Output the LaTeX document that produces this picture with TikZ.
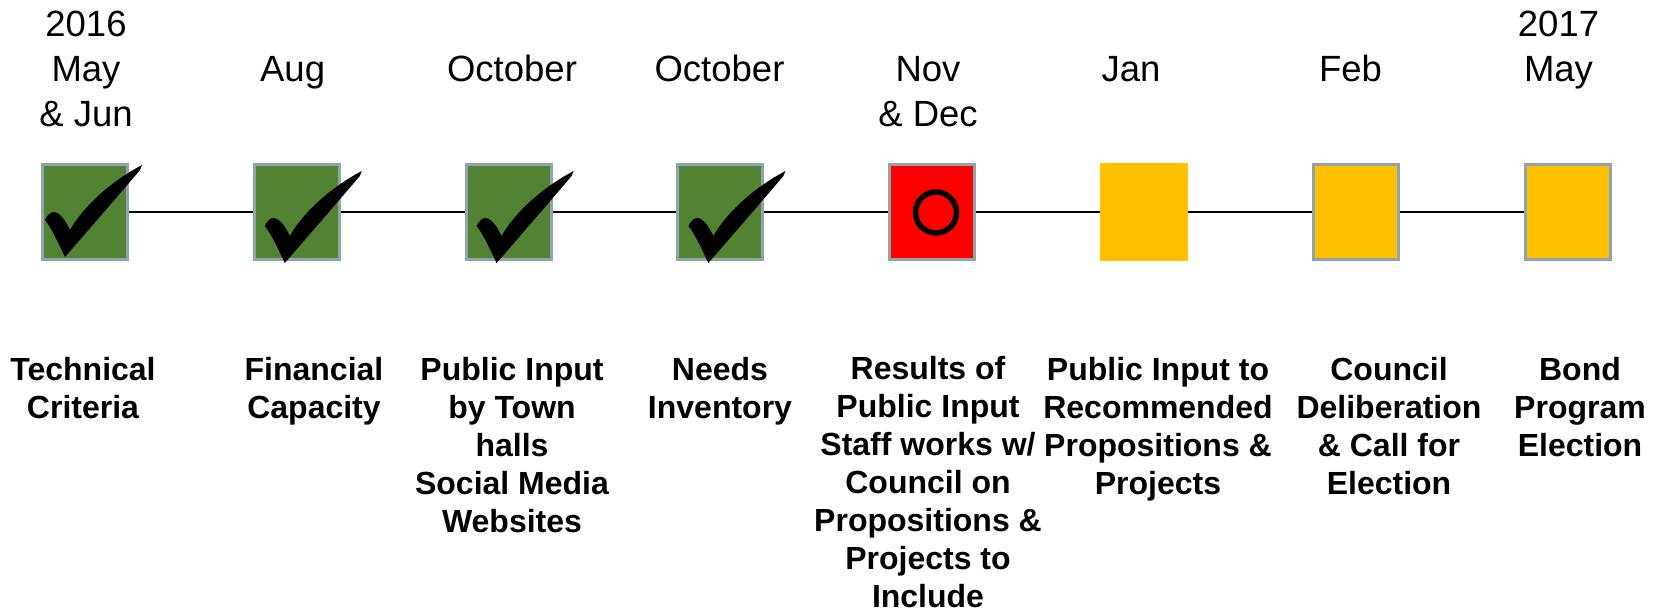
\documentclass[tikz,border=0pt]{standalone}
\usepackage{fontspec}
\setmainfont{Liberation Sans}
\usetikzlibrary{calc}
\definecolor{okgreen}{RGB}{84,130,53}
\definecolor{todo}{RGB}{255,192,0}
\definecolor{nowred}{RGB}{255,0,0}
\definecolor{edgegray}{RGB}{143,165,173}
\tikzset{
  box/.style={rectangle, draw=edgegray, line width=3pt, minimum width=85pt, minimum height=95pt, inner sep=0pt},
  donebox/.style={box, fill=okgreen},
  redbox/.style={box, fill=nowred},
  todobox/.style={box, fill=todo},
  plainbox/.style={rectangle, draw=none, fill=todo, minimum width=88pt, minimum height=98pt, inner sep=0pt},
  conn/.style={draw=black, line width=1.5pt},
  toplab/.style={anchor=base, align=center, inner sep=0pt, font=\fontsize{36.5}{45}\selectfont},
  botlab/.style={anchor=base, align=center, inner sep=0pt, font=\fontsize{32}{38}\selectfont\bfseries},
  checkmark/.pic={
    \fill[black] (-40,8) .. controls (-37,2) and (-34,0) .. (-31,0)
      .. controls (-24,1) and (-19,10) .. (-15,18)
      .. controls (-2,-5) and (25,-30) .. (57,-47)
      -- (55,-42)
      .. controls (38,-22) and (12,8) .. (-20,45)
      .. controls (-25,35) and (-32,18) .. cycle;
  }
}
\begin{document}
\begin{tikzpicture}[x=1pt,y=-1pt]
\useasboundingbox (0,0) rectangle (1665,613);
% boxes
\node[donebox] (b1) at (85,212) {};
\node[donebox] (b2) at (296.8,212) {};
\node[donebox] (b3) at (508.6,212) {};
\node[donebox] (b4) at (720.4,212) {};
\node[redbox] (b5) at (932,212) {};
\node[plainbox] (b6) at (1144,212) {};
\node[todobox] (b7) at (1355.8,212) {};
\node[todobox] (b8) at (1567.6,212) {};
% connectors
\draw[conn] (b1) -- (b2) (b2) -- (b3) (b3) -- (b4) (b4) -- (b5)
  (b5) -- (b6) (b6) -- (b7) (b7) -- (b8);
% marks
\pic at (b1) {checkmark};
\pic at ($(b2)+(8,6)$) {checkmark};
\pic at ($(b3)+(8,6)$) {checkmark};
\pic at ($(b4)+(8,6)$) {checkmark};
\node[circle, draw=black, line width=5.5pt, minimum size=41pt, inner sep=0pt] (o5) at ($(b5)+(4,0.5)$) {};
% top labels (anchor = baseline of last line)
\node[toplab] (t1) at (86,126.7) {2016\\May\\\& Jun};
\node[toplab] (t2) at (292.6,81.7) {Aug};
\node[toplab] (t3) at (512,81.7) {October};
\node[toplab] (t4) at (719.5,81.7) {October};
\node[toplab] (t5) at (928,126.7) {Nov\\\& Dec};
\node[toplab] (t6) at (1131,81.7) {Jan};
\node[toplab] (t7) at (1350.5,81.7) {Feb};
\node[toplab] (t8) at (1558.5,81.7) {2017\\May};
% bottom labels (anchor = baseline of last line)
\node[botlab] (l1) at (83,418) {Technical\\Criteria};
\node[botlab] (l2) at (314,418) {Financial\\Capacity};
\node[botlab] (l3) at (512,532) {Public Input\\by Town\\halls\\Social Media\\Websites};
\node[botlab] (l4) at (720,418) {Needs\\Inventory};
\node[botlab] (l5) at (928,607.5) {Results of\\Public Input\\Staff works w/\\Council on\\Propositions \&\\Projects to\\Include};
\node[botlab] (l6) at (1158,494) {Public Input to\\Recommended\\Propositions \&\\Projects};
\node[botlab] (l7) at (1389,494) {Council\\Deliberation\\\& Call for\\Election};
\node[botlab] (l8) at (1580,456) {Bond\\Program\\Election};
\end{tikzpicture}
\end{document}
